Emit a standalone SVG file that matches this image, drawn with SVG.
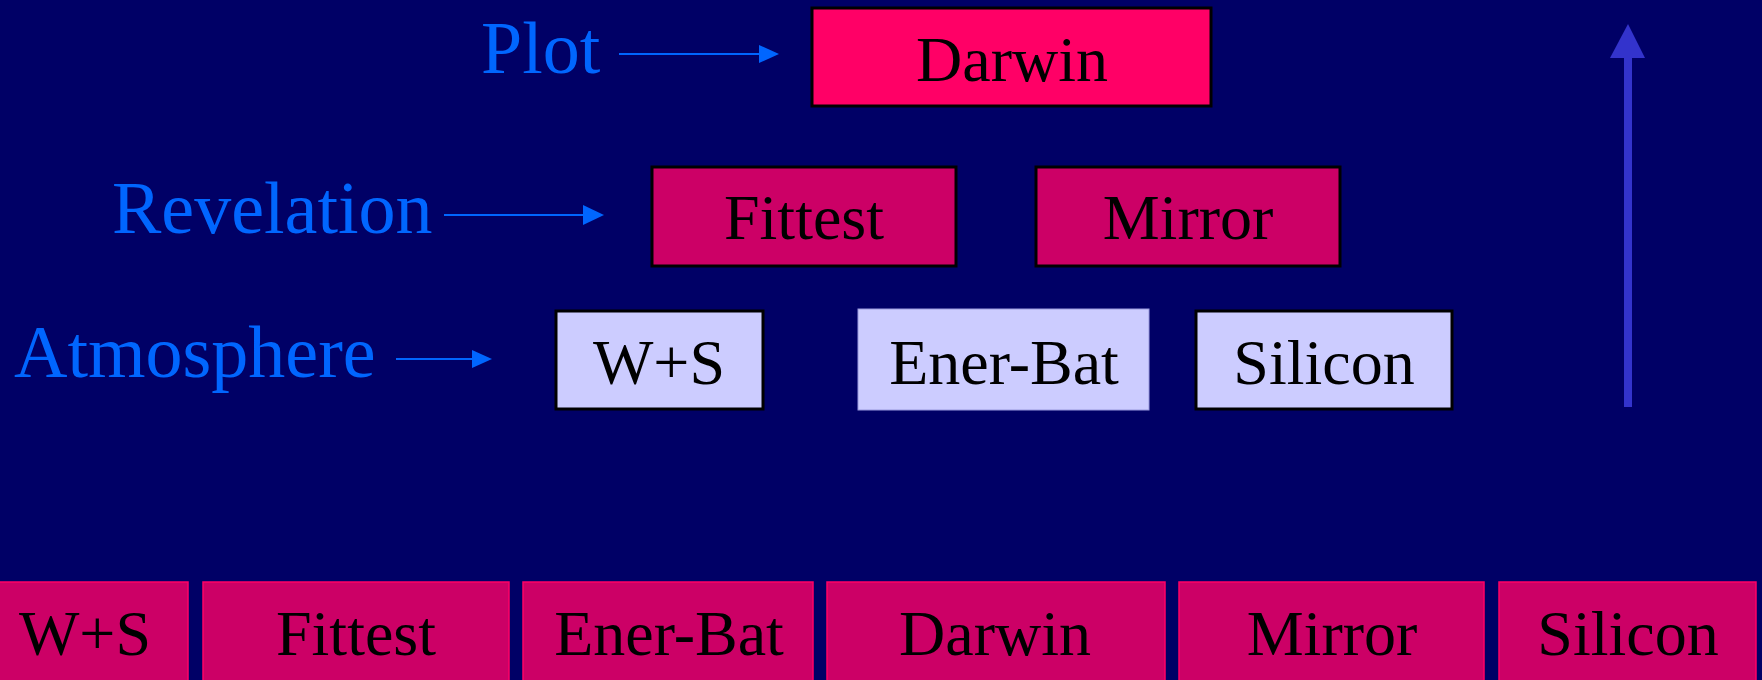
<svg xmlns="http://www.w3.org/2000/svg" width="1762" height="680" viewBox="0 0 1762 680">
  <style>
    .t { font-family: "Liberation Serif", "Times New Roman", serif; font-size: 64px; fill: #000000; text-anchor: middle; }
    .lbl { font-family: "Liberation Serif", "Times New Roman", serif; font-size: 74px; fill: #0066FF; }
    .hot { fill: #FF0066; stroke: #000000; stroke-width: 3; }
    .mag { fill: #CC0066; stroke: #000000; stroke-width: 3; }
    .pale { fill: #CCCCFF; stroke: #000000; stroke-width: 3; }
    .pale-soft { fill: #CCCCFF; stroke: #9999DD; stroke-width: 1; }
    .bar { fill: #CC0066; stroke: #FF0066; stroke-width: 1.5; }
    .conn { stroke: #0066FF; stroke-width: 2; fill: none; }
  </style>
  <defs>
    <marker id="head" viewBox="0 0 10 10" refX="10" refY="5" markerWidth="10" markerHeight="10" markerUnits="userSpaceOnUse" orient="auto" overflow="visible">
      <path d="M0,0 L10,5 L0,10 Z" fill="#0066FF" transform="scale(2)"/>
    </marker>
  </defs>

  <rect x="0" y="0" width="1762" height="680" fill="#000066"/>

  <!-- level labels -->
  <text class="lbl" x="481" y="73">Plot</text>
  <text class="lbl" x="112" y="233">Revelation</text>
  <text class="lbl" x="14" y="377">Atmosphere</text>

  <!-- connectors -->
  <g id="connectors">
    <line class="conn" x1="619" y1="54" x2="759" y2="54"/>
    <polygon points="759,45 779,54 759,63" fill="#0066FF"/>
    <line class="conn" x1="444" y1="215" x2="584" y2="215"/>
    <polygon points="583,205 604,215 583,225" fill="#0066FF"/>
    <line class="conn" x1="396" y1="359" x2="472" y2="359"/>
    <polygon points="472,350 492,359 472,368" fill="#0066FF"/>
    <!-- upward arrow on the right -->
    <rect x="1624" y="56" width="8" height="351" fill="#3333CC"/>
    <polygon points="1610,58 1628,24 1645,58" fill="#3333CC"/>
  </g>

  <!-- top level -->
  <g id="darwin-top">
    <rect class="hot" x="812" y="8" width="399" height="98"/>
    <text class="t" x="1012" y="81">Darwin</text>
  </g>

  <!-- middle level -->
  <g id="fittest-mid">
    <rect class="mag" x="652" y="167" width="304" height="99"/>
    <text class="t" x="804" y="239">Fittest</text>
  </g>
  <g id="mirror-mid">
    <rect class="mag" x="1036" y="167" width="304" height="99"/>
    <text class="t" x="1188" y="239">Mirror</text>
  </g>

  <!-- lower level -->
  <g id="ws-low">
    <rect class="pale" x="556" y="311" width="207" height="98"/>
    <text class="t" x="659" y="384">W+S</text>
  </g>
  <g id="enerbat-low">
    <rect class="pale-soft" x="858" y="309" width="291" height="101"/>
    <text class="t" x="1004" y="384">Ener-Bat</text>
  </g>
  <g id="silicon-low">
    <rect class="pale" x="1196" y="311" width="256" height="98"/>
    <text class="t" x="1324" y="384">Silicon</text>
  </g>

  <!-- bottom strip -->
  <g id="ws-bar">
    <rect class="bar" x="-20" y="582" width="208" height="110"/>
    <text class="t" x="85" y="655">W+S</text>
  </g>
  <g id="fittest-bar">
    <rect class="bar" x="203" y="582" width="306" height="110"/>
    <text class="t" x="356" y="655">Fittest</text>
  </g>
  <g id="enerbat-bar">
    <rect class="bar" x="523" y="582" width="290" height="110"/>
    <text class="t" x="669" y="655">Ener-Bat</text>
  </g>
  <g id="darwin-bar">
    <rect class="bar" x="827" y="582" width="338" height="110"/>
    <text class="t" x="995" y="655">Darwin</text>
  </g>
  <g id="mirror-bar">
    <rect class="bar" x="1179" y="582" width="305" height="110"/>
    <text class="t" x="1332" y="655">Mirror</text>
  </g>
  <g id="silicon-bar">
    <rect class="bar" x="1499" y="582" width="257" height="110"/>
    <text class="t" x="1628" y="655">Silicon</text>
  </g>
</svg>
